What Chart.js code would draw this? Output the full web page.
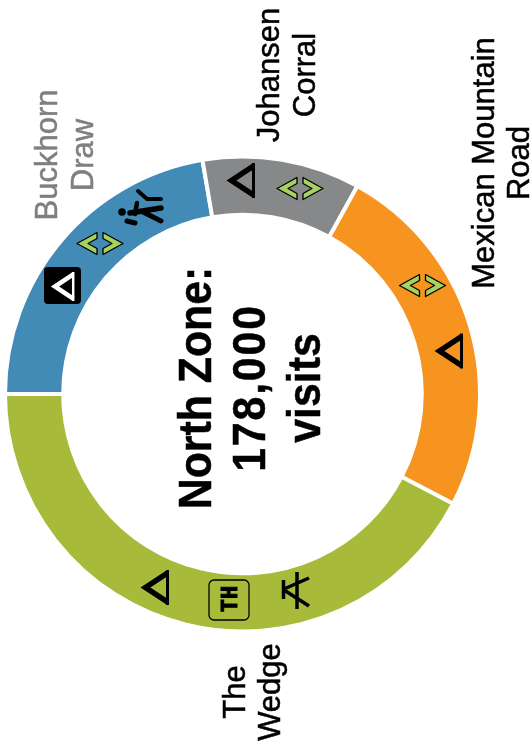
<!DOCTYPE html>
<html lang="en">
<head>
    <meta charset="UTF-8">
    <title>North Zone visits</title>
    <script src="https://cdn.jsdelivr.net/npm/chart.js"></script>
    <style>
        body { margin: 0; background: #fff; }
        canvas { display: block; }
    </style>
</head>
<body>
    <canvas id="zoneChart" width="532" height="749"></canvas>

    <script>
        // Data
        const sites = ['Buckhorn Draw', 'Johansen Corral', 'Mexican Mountain Road', 'The Wedge'];
        const visits = [39700, 19100, 43800, 75400];
        const siteColors = ['#428bb6', '#87888a', '#f79420', '#a7ba3a'];
        const centerLines = ['North Zone:', '178,000', 'visits'];

        // Text blocks, rotated a quarter turn like the whole figure
        const siteLabels = [
            { lines: ['Buckhorn', 'Draw'], color: '#7f7f7f', baselines: [57, 93], y: 155 },
            { lines: ['Johansen', 'Corral'], color: '#000', baselines: [279, 315], y: 75 },
            { lines: ['Mexican Mountain', 'Road'], color: '#000', baselines: [494, 529], y: 163 },
            { lines: ['The', 'Wedge'], color: '#000', baselines: [245, 280], y: 692 }
        ];

        // Pictographs sitting on the ring
        const icons = [
            { type: 'badge', x: 62.5, y: 285.5 },
            { type: 'chevrons', x: 100, y: 243.5 },
            { type: 'hiker', x: 0, y: 0 },
            { type: 'tent', x: 240, y: 180.5 },
            { type: 'chevrons', x: 300, y: 188.5 },
            { type: 'chevrons', x: 422.5, y: 285.5 },
            { type: 'tent', x: 448, y: 351 },
            { type: 'tent', x: 154, y: 587.5 },
            { type: 'trailhead', x: 229, y: 600 },
            { type: 'picnic', x: 0, y: 0 }
        ];

        function line(ctx, points, width) {
            ctx.lineWidth = width;
            ctx.beginPath();
            points.forEach((p, i) => i ? ctx.lineTo(p[0], p[1]) : ctx.moveTo(p[0], p[1]));
            ctx.stroke();
        }

        function drawTent(ctx, x, y, scale, color) {
            ctx.strokeStyle = color;
            ctx.lineJoin = 'miter';
            ctx.lineCap = 'butt';
            const w = 13.5 * scale;
            const h = 14.5 * scale;
            line(ctx, [[x + w, y - h], [x - w + 5 * scale, y], [x + w, y + h]], 5.5 * scale);
            line(ctx, [[x + w, y - 17.5 * scale], [x + w, y + 17.5 * scale]], 3 * scale);
        }

        function drawChevron(ctx, x, y, dir) {
            ctx.beginPath();
            ctx.moveTo(x + dir * 23, y);
            ctx.lineTo(x + dir * 3, y - 11);
            ctx.lineTo(x + dir * 3, y - 5);
            ctx.lineTo(x + dir * 12, y);
            ctx.lineTo(x + dir * 3, y + 5);
            ctx.lineTo(x + dir * 3, y + 11);
            ctx.closePath();
            ctx.fillStyle = '#a6d25f';
            ctx.strokeStyle = '#000';
            ctx.lineWidth = 1.3;
            ctx.lineJoin = 'round';
            ctx.fill();
            ctx.stroke();
        }

        function roundBox(ctx, x, y, w, h, r) {
            ctx.beginPath();
            ctx.roundRect(x, y, w, h, r);
        }

        function drawIcon(ctx, icon) {
            const { type, x, y } = icon;
            ctx.save();
            if (type === 'tent') {
                drawTent(ctx, x, y, 1, '#000');
            } else if (type === 'badge') {
                roundBox(ctx, x - 18.5, y - 18.5, 37, 37, 4);
                ctx.fillStyle = '#000';
                ctx.fill();
                drawTent(ctx, x - 0.5, y + 1, 0.83, '#fff');
            } else if (type === 'chevrons') {
                drawChevron(ctx, x, y, -1);
                drawChevron(ctx, x, y, 1);
            } else if (type === 'hiker') {
                ctx.fillStyle = '#000';
                ctx.strokeStyle = '#000';
                ctx.lineCap = 'round';
                ctx.lineJoin = 'round';
                ctx.beginPath();
                ctx.arc(122, 212, 3.8, 0, Math.PI * 2);
                ctx.fill();
                line(ctx, [[138, 191], [147, 199], [161, 199]], 4);
                line(ctx, [[130, 213], [161, 208]], 5.5);
                line(ctx, [[143, 212], [161, 221]], 5);
                line(ctx, [[127, 221], [135, 223]], 5);
                line(ctx, [[137, 203], [135, 214]], 4.5);
            } else if (type === 'trailhead') {
                roundBox(ctx, x - 20, y - 20, 40, 40, 5);
                ctx.strokeStyle = '#000';
                ctx.lineWidth = 1.3;
                ctx.stroke();
                ctx.translate(x + 8, y - 1);
                ctx.rotate(-Math.PI / 2);
                ctx.fillStyle = '#000';
                ctx.font = 'bold 22px "DejaVu Sans Mono"';
                ctx.textAlign = 'center';
                ctx.textBaseline = 'alphabetic';
                ctx.lineWidth = 1;
                ctx.fillText('TH', 0, 0);
                ctx.strokeText('TH', 0, 0);
            } else if (type === 'picnic') {
                ctx.strokeStyle = '#000';
                line(ctx, [[283.5, 580], [283.5, 599]], 3.5);
                line(ctx, [[297, 572], [297, 609]], 3.5);
                line(ctx, [[309, 578], [284, 589]], 3.5);
                line(ctx, [[309, 606], [284, 590]], 3.5);
            }
            ctx.restore();
        }

        function drawRotated(ctx, text, x, y, font, color, squeeze, heavy, spacing) {
            ctx.save();
            ctx.translate(x, y);
            ctx.rotate(-Math.PI / 2);
            ctx.scale(squeeze, 1);
            ctx.font = font;
            ctx.letterSpacing = spacing;
            ctx.fillStyle = color;
            ctx.strokeStyle = color;
            ctx.lineWidth = heavy;
            ctx.textAlign = 'center';
            ctx.textBaseline = 'alphabetic';
            ctx.fillText(text, 0, 0);
            ctx.strokeText(text, 0, 0);
            ctx.restore();
        }

        const annotations = {
            id: 'annotations',
            afterDatasetsDraw(chart) {
                const ctx = chart.ctx;
                icons.forEach(icon => drawIcon(ctx, icon));

                siteLabels.forEach(label => {
                    label.lines.forEach((text, i) => {
                        drawRotated(ctx, text, label.baselines[i], label.y, '31px "Liberation Sans"', label.color, 1, 0.5, '0px');
                    });
                });

                const centerBaselines = [211, 265, 320];
                const centerSpacing = ['0px', '2px', '0px'];
                centerLines.forEach((text, i) => {
                    drawRotated(ctx, text, centerBaselines[i], 388, 'bold 46px "Liberation Sans"', '#000', 0.93, 0.5, centerSpacing[i]);
                });
            }
        };

        new Chart(document.getElementById('zoneChart'), {
            type: 'doughnut',
            data: {
                labels: sites,
                datasets: [{
                    data: visits,
                    backgroundColor: siteColors,
                    borderColor: '#fff',
                    borderWidth: 4,
                    hoverOffset: 0
                }]
            },
            options: {
                responsive: false,
                animation: false,
                rotation: -90,
                cutout: '75.5%',
                layout: {
                    padding: { left: 3, right: 50, top: 154.5, bottom: 115.5 }
                },
                plugins: {
                    legend: { display: false },
                    tooltip: { enabled: false }
                }
            },
            plugins: [annotations]
        });
    </script>
</body>
</html>
